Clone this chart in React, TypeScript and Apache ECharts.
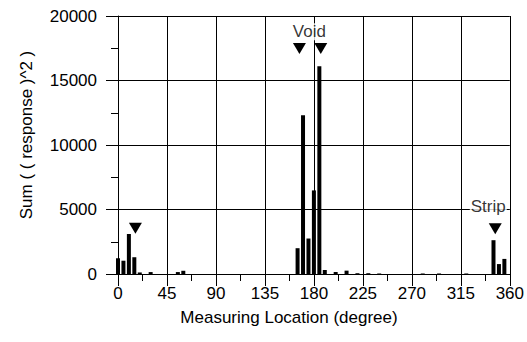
import React, { useEffect, useRef } from "react";
import * as echarts from "echarts";

// Measured locations (degree) and Sum((response)^2)
const angles = [0, 5, 10, 15, 20, 30, 55, 60, 165, 170, 175, 180, 185, 190, 200, 210, 220, 230, 240, 280, 295, 320, 345, 350, 355];
const values = [1220, 1030, 3100, 1300, 120, 150, 150, 250, 2000, 12300, 2750, 6480, 16100, 310, 155, 260, 60, 60, 40, 40, 40, 40, 2620, 770, 1170];

// Inverted triangle markers
const markerAngles = [16, 166.7, 186.3, 346.6];
const markerValues = [3550, 17480, 17480, 3510];

// Text annotations
const noteTexts = ["Void", "Strip"];
const noteAngles = [175.8, 340.2];
const noteValues = [18780, 5220];

const xTicks = [0, 45, 90, 135, 180, 225, 270, 315, 360];
const yTicks = [0, 5000, 10000, 15000, 20000];

const FONT = "'Liberation Sans', Arial, sans-serif";

export default function App() {
  const ref = useRef<HTMLDivElement>(null);
  useEffect(() => {
    if (!ref.current) return;
    const chart = echarts.init(ref.current, null, { renderer: "svg" });
    const axisCommon = {
      axisLine: { show: true, lineStyle: { color: "#000", width: 1 } },
      axisTick: { show: true, inside: false, length: 12, lineStyle: { color: "#000", width: 1 } },
      minorTick: { show: true, splitNumber: 2, length: 7, lineStyle: { color: "#000", width: 1 } },
      splitLine: { show: true, lineStyle: { color: "#000", width: 1 } },
      axisLabel: { color: "#000", fontSize: 17, fontFamily: FONT, formatter: (v: number) => String(v) },
    };
    chart.setOption({
      animation: false,
      backgroundColor: "#fff",
      grid: { left: 118, right: 17, top: 16, bottom: 68, containLabel: false },
      xAxis: {
        type: "value",
        min: xTicks[0],
        max: xTicks[xTicks.length - 1],
        interval: 45,
        ...axisCommon,
        axisLabel: { ...axisCommon.axisLabel, margin: 11 },
      },
      yAxis: {
        type: "value",
        min: yTicks[0],
        max: yTicks[yTicks.length - 1],
        interval: 5000,
        ...axisCommon,
        axisLabel: { ...axisCommon.axisLabel, margin: 21 },
      },
      series: [
        {
          type: "bar",
          data: angles.map((a, i) => [a, values[i]]),
          barWidth: 4,
          itemStyle: { color: "#000" },
        },
        {
          type: "scatter",
          data: markerAngles.map((a, i) => [a, markerValues[i]]),
          symbol: "triangle",
          symbolRotate: 180,
          symbolSize: [13, 11],
          itemStyle: { color: "#000", opacity: 1 },
          z: 5,
        },
        {
          type: "scatter",
          data: noteAngles.map((a, i) => ({ value: [a, noteValues[i]], name: noteTexts[i] })),
          symbolSize: 1,
          itemStyle: { color: "rgba(0,0,0,0)" },
          label: {
            show: true,
            position: "inside",
            formatter: (p: any) => p.name,
            color: "#000",
            fontSize: 17,
            fontFamily: FONT,
            backgroundColor: "#fff",
            padding: [0, 1],
          },
          z: 6,
        },
      ],
      graphic: [
        {
          type: "text",
          x: 26,
          y: 135,
          rotation: Math.PI / 2,
          style: {
            text: "Sum ( ( response )^2 )",
            fill: "#000",
            font: `17px ${FONT}`,
            textAlign: "center",
            textVerticalAlign: "middle",
          },
        },
        {
          type: "text",
          x: 289,
          y: 317,
          style: {
            text: "Measuring Location (degree)",
            fill: "#000",
            font: `17px ${FONT}`,
            textAlign: "center",
            textVerticalAlign: "middle",
          },
        },
      ],
    });
    return () => chart.dispose();
  }, []);
  return (
    <div
      ref={ref}
      style={{ position: "fixed", left: 0, top: 0, width: 527, height: 342 }}
    />
  );
}
